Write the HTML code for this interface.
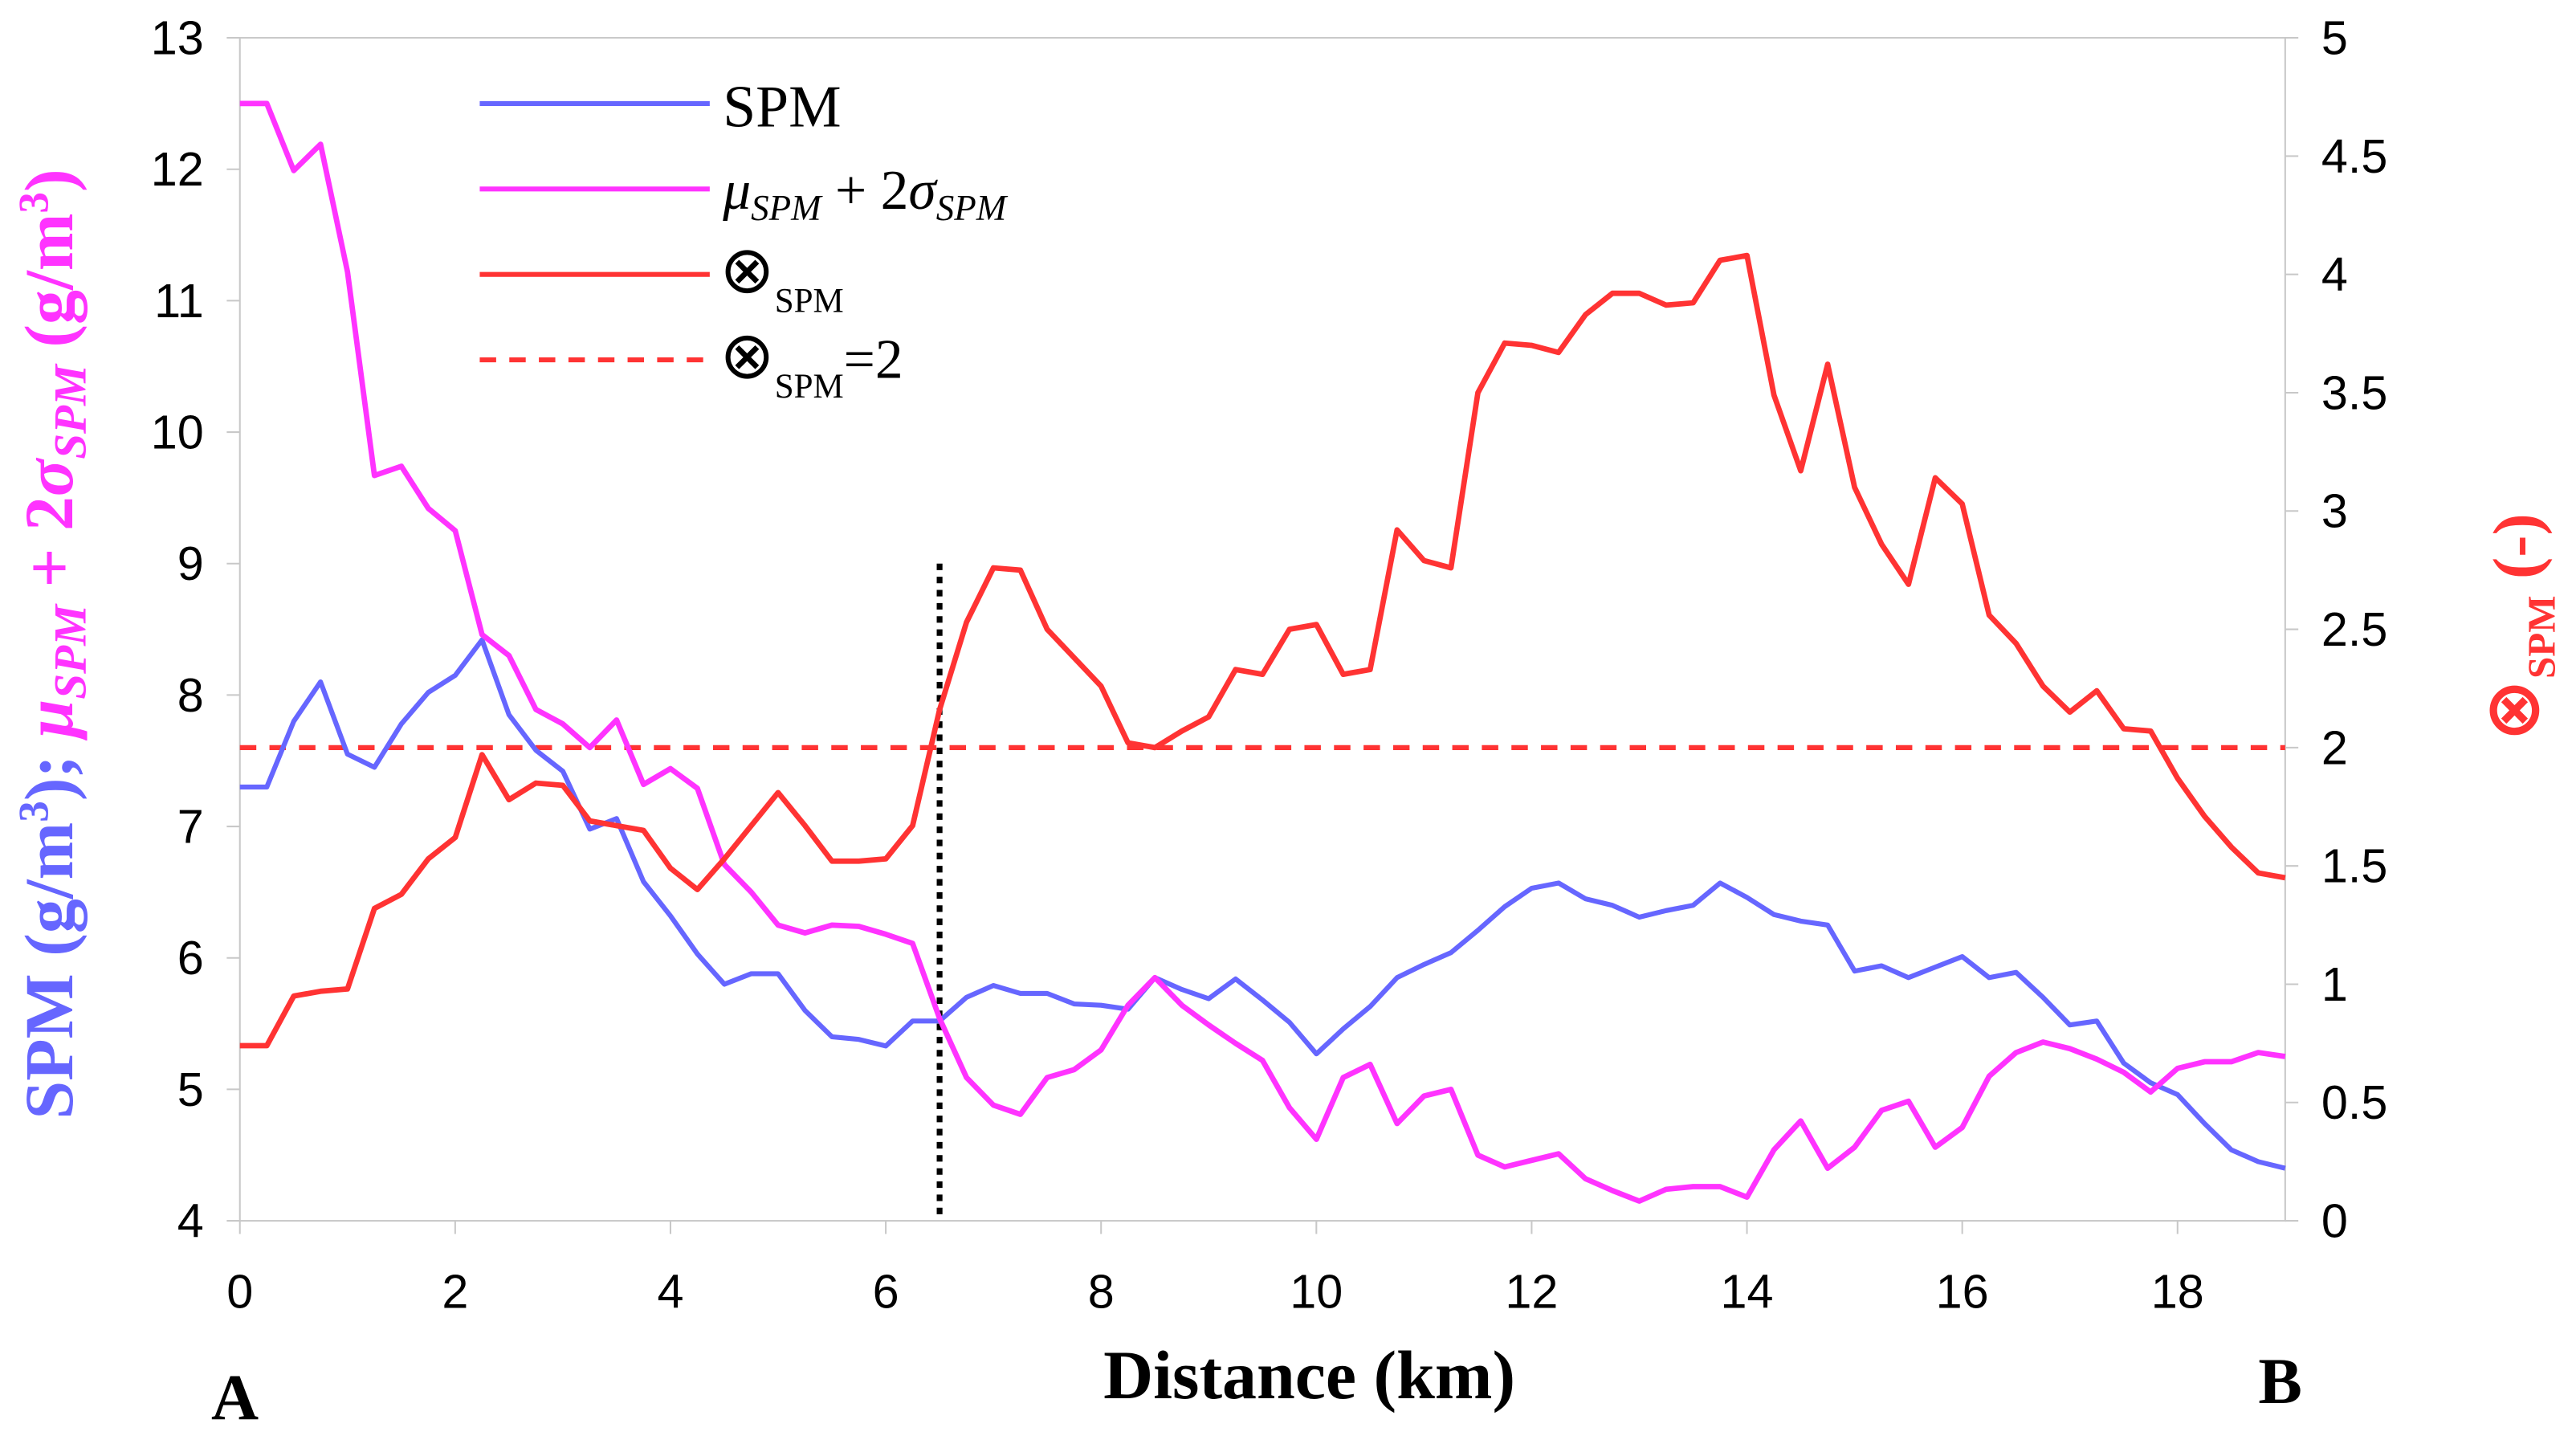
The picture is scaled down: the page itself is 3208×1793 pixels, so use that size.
<!DOCTYPE html>
<html><head><meta charset="utf-8"><style>
html,body{margin:0;padding:0;background:#fff;}
svg{display:block;}
</style></head>
<body>
<svg id="chart" width="3208" height="1793" viewBox="0 0 1568 876.4" xmlns="http://www.w3.org/2000/svg">
<g id="axes"></g>
<g id="series"></g>
<g id="legend">
  <line x1="292" y1="63" x2="432" y2="63" stroke="#6666ff" stroke-width="3"/>
  <text x="440" y="77" font-family="Liberation Serif, serif" font-size="36">SPM</text>
  <line x1="292" y1="115" x2="432" y2="115" stroke="#ff33ff" stroke-width="3"/>
  <text x="440" y="127" font-family="Liberation Serif, serif" font-size="34"><tspan font-style="italic">μ</tspan><tspan font-style="italic" font-size="22" dy="7">SPM</tspan><tspan dy="-7"> + 2</tspan><tspan font-style="italic">σ</tspan><tspan font-style="italic" font-size="22" dy="7">SPM</tspan></text>
  <line x1="292" y1="167" x2="432" y2="167" stroke="#ff3333" stroke-width="3"/>
  <text x="438" y="178" font-family="DejaVu Sans, sans-serif" font-size="40">⊗<tspan font-family="Liberation Serif, serif" font-size="21" dy="12">SPM</tspan></text>
  <line x1="292" y1="219" x2="432" y2="219" stroke="#ff3333" stroke-width="3" stroke-dasharray="10,8"/>
  <text x="438" y="230" font-family="DejaVu Sans, sans-serif" font-size="40">⊗<tspan font-family="Liberation Serif, serif" font-size="21" dy="12">SPM</tspan><tspan font-family="Liberation Serif, serif" font-size="34" dy="-12">=2</tspan></text>
</g>
<text x="797" y="851" text-anchor="middle" font-family="Liberation Serif, serif" font-weight="bold" font-size="42">Distance (km)</text>
<text x="143" y="864" text-anchor="middle" font-family="Liberation Serif, serif" font-weight="bold" font-size="40">A</text>
<text x="1388" y="854" text-anchor="middle" font-family="Liberation Serif, serif" font-weight="bold" font-size="40">B</text>
<text transform="translate(44,392) rotate(-90)" text-anchor="middle" font-family="Liberation Serif, serif" font-weight="bold" font-size="42"><tspan fill="#6666ff">SPM (g/m</tspan><tspan fill="#6666ff" font-size="26" dy="-15">3</tspan><tspan fill="#6666ff" dy="15">); </tspan><tspan fill="#ff33ff" font-style="italic">μ</tspan><tspan fill="#ff33ff" font-style="italic" font-size="28" dy="8">SPM</tspan><tspan fill="#ff33ff" dy="-8"> + 2</tspan><tspan fill="#ff33ff" font-style="italic">σ</tspan><tspan fill="#ff33ff" font-style="italic" font-size="28" dy="8">SPM</tspan><tspan fill="#ff33ff" dy="-8"> (g/m</tspan><tspan fill="#ff33ff" font-size="26" dy="-15">3</tspan><tspan fill="#ff33ff" dy="15">)</tspan></text>
<text transform="translate(1545,382) rotate(-90)" text-anchor="middle" fill="#ff3333" font-family="DejaVu Sans, sans-serif" font-weight="bold" font-size="46">⊗<tspan font-family="Liberation Serif, serif" font-size="24" dy="10">SPM</tspan><tspan font-family="Liberation Serif, serif" font-size="40" dy="-10"> (-)</tspan></text>
</svg>
<script>
const distStep = 0.25;
const spmValues = [7.3,7.3,7.8,8.1,7.55,7.45,7.78,8.02,8.15,8.42,7.85,7.58,7.42,6.98,7.06,6.58,6.32,6.03,5.8,5.88,5.88,5.6,5.4,5.38,5.33,5.52,5.52,5.7,5.79,5.73,5.73,5.65,5.64,5.61,5.85,5.76,5.69,5.84,5.68,5.51,5.27,5.46,5.63,5.85,5.95,6.04,6.21,6.39,6.53,6.57,6.45,6.4,6.31,6.36,6.4,6.57,6.46,6.33,6.28,6.25,5.9,5.94,5.85,5.93,6.01,5.85,5.89,5.7,5.49,5.52,5.2,5.05,4.96,4.74,4.54,4.45,4.4];
const thresholdValues = [12.5,12.5,11.99,12.19,11.22,9.67,9.74,9.42,9.25,8.46,8.3,7.89,7.78,7.6,7.81,7.32,7.44,7.29,6.71,6.5,6.25,6.19,6.25,6.24,6.18,6.11,5.54,5.09,4.88,4.81,5.09,5.15,5.3,5.64,5.85,5.64,5.49,5.35,5.22,4.86,4.62,5.09,5.19,4.74,4.95,5.0,4.5,4.41,4.46,4.51,4.32,4.23,4.15,4.24,4.26,4.26,4.18,4.54,4.76,4.4,4.56,4.84,4.91,4.56,4.71,5.1,5.28,5.36,5.31,5.23,5.13,4.98,5.16,5.21,5.21,5.28,5.25];
const indexValues = [0.74,0.74,0.95,0.97,0.98,1.32,1.38,1.53,1.62,1.97,1.78,1.85,1.84,1.69,1.67,1.65,1.49,1.4,1.53,1.67,1.81,1.67,1.52,1.52,1.53,1.67,2.16,2.53,2.76,2.75,2.5,2.38,2.26,2.02,2.0,2.07,2.13,2.33,2.31,2.5,2.52,2.31,2.33,2.92,2.79,2.76,3.5,3.71,3.7,3.67,3.83,3.92,3.92,3.87,3.88,4.06,4.08,3.49,3.17,3.62,3.1,2.86,2.69,3.14,3.03,2.56,2.44,2.26,2.15,2.24,2.08,2.07,1.87,1.71,1.58,1.47,1.45];
const xTicks = [0,2,4,6,8,10,12,14,16,18];
const leftTicks = [4,5,6,7,8,9,10,11,12,13];
const rightTicks = [0,0.5,1,1.5,2,2.5,3,3.5,4,4.5,5];
const rightTickLabels = ["0","0.5","1","1.5","2","2.5","3","3.5","4","4.5","5"];
const indexLimit = 2;
const markerKm = 6.5;

const X0=146, X1=1391, Y0=743, Y1=23;
const xs = km => X0 + (km/19)*(X1-X0);
const yl = v => Y0 - (v-4)/9*(Y0-Y1);
const yr = v => Y0 - v/5*(Y0-Y1);
const NS="http://www.w3.org/2000/svg";
function mk(tag, attrs, parent){const e=document.createElementNS(NS,tag);for(const k in attrs)e.setAttribute(k,attrs[k]);parent.appendChild(e);return e;}
const axes=document.getElementById('axes'), series=document.getElementById('series');

let e;
e=mk('rect',{x:X0,y:Y1,width:X1-X0,height:Y0-Y1,fill:'none',stroke:'#c8c8c8','stroke-width':1},axes);


const font='Liberation Sans, sans-serif';
xTicks.forEach(t=>{
  e=mk('line',{x1:xs(t),y1:Y0,x2:xs(t),y2:Y0+8,stroke:'#c8c8c8'},axes);
  
  
  e=mk('text',{x:xs(t),y:Y0+53,'text-anchor':'middle','font-family':font,'font-size':29},axes);
  e.textContent=t;
  
  
});
leftTicks.forEach(t=>{
  e=mk('line',{x1:X0-8,y1:yl(t),x2:X0,y2:yl(t),stroke:'#c8c8c8'},axes);
  
  
  e=mk('text',{x:X0-22,y:yl(t)+10,'text-anchor':'end','font-family':font,'font-size':29},axes);
  e.textContent=t;
  
  
});
rightTicks.forEach((t,i)=>{
  e=mk('line',{x1:X1,y1:yr(t),x2:X1+8,y2:yr(t),stroke:'#c8c8c8'},axes);
  
  
  e=mk('text',{x:X1+22,y:yr(t)+10,'text-anchor':'start','font-family':font,'font-size':29},axes);
  e.textContent=rightTickLabels[i];
  
  
});
function poly(vals, yf){
  return vals.map((v,i)=>xs(i*distStep).toFixed(1)+','+yf(v).toFixed(1)).join(' ');
}
e=mk('line',{x1:X0,y1:yr(indexLimit),x2:X1,y2:yr(indexLimit),stroke:'#ff3333','stroke-width':3,'stroke-dasharray':'10,8'},series);


e=mk('line',{x1:xs(markerKm),y1:343,x2:xs(markerKm),y2:Y0,stroke:'#000','stroke-width':3.5,'stroke-dasharray':'4,4'},series);


e=mk('polyline',{points:poly(spmValues,yl),fill:'none',stroke:'#6666ff','stroke-width':3,'stroke-linejoin':'round'},series);


e=mk('polyline',{points:poly(thresholdValues,yl),fill:'none',stroke:'#ff33ff','stroke-width':3.3,'stroke-linejoin':'round'},series);


e=mk('polyline',{points:poly(indexValues,yr),fill:'none',stroke:'#ff3333','stroke-width':3.3,'stroke-linejoin':'round'},series);


</script>
</body></html>
